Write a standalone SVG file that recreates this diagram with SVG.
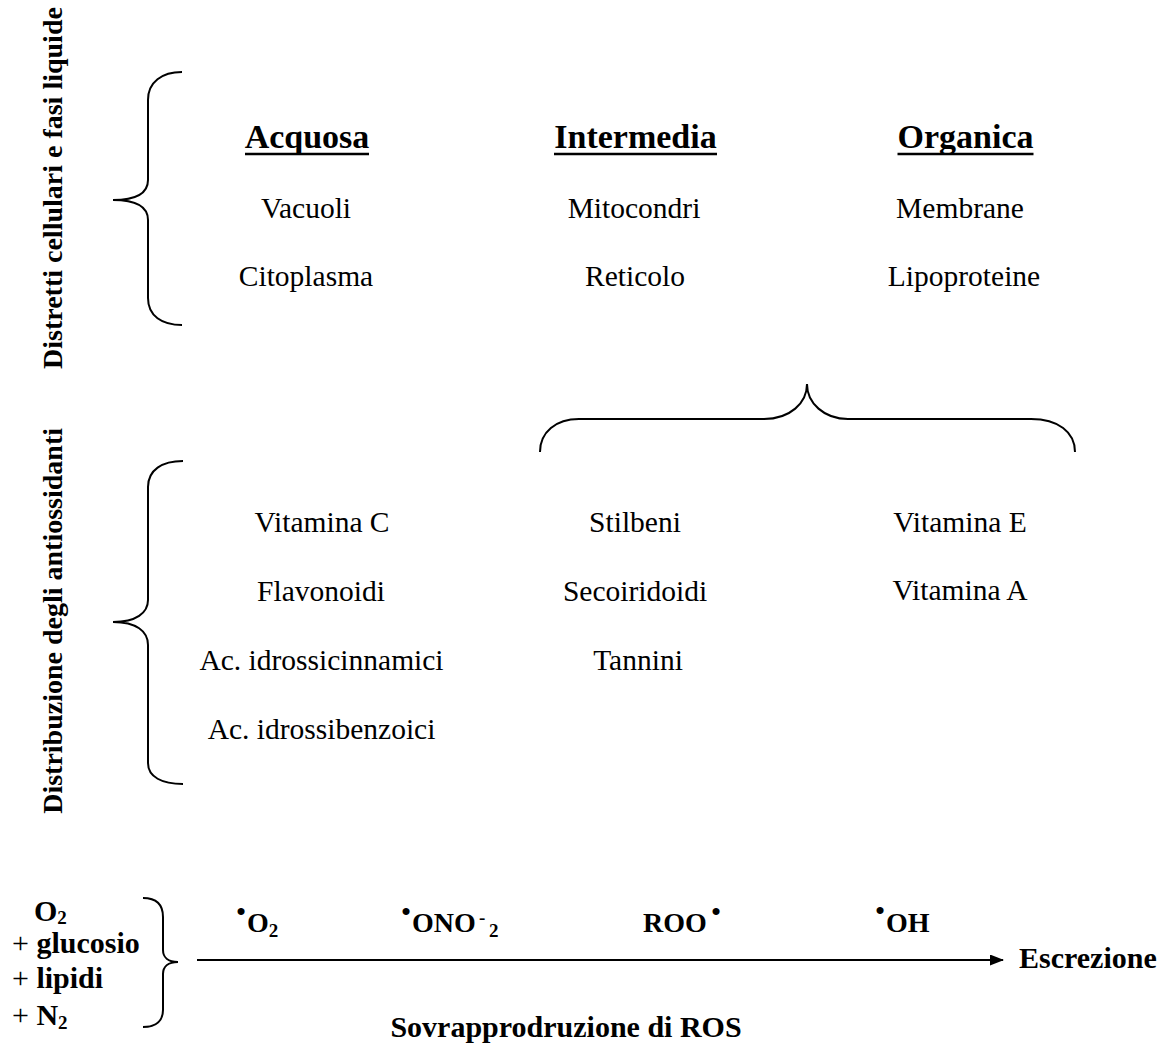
<svg xmlns="http://www.w3.org/2000/svg" width="1168" height="1050" viewBox="0 0 1168 1050">
<style>
  text { font-family: "Liberation Serif", "Times New Roman", serif; fill: #000; }
  .head { font-size: 34px; font-weight: bold; text-anchor: middle; }
  .item { font-size: 29.5px; text-anchor: middle; }
  .vert { font-size: 28px; font-weight: bold; }
  .bold { font-size: 30px; font-weight: bold; }
  .rad { font-size: 28px; font-weight: bold; }
  .sub { font-size: 19px; }
  .dot { font-size: 26px; }
  .plus { font-weight: normal; }
  .brace { fill: none; stroke: #000; stroke-width: 2; }
  .uline { stroke: #000; stroke-width: 2.6; }
  .conn { stroke: #000; stroke-width: 2; fill: none; }
</style>
<defs>
  <marker id="arrow" viewBox="0 0 14 11" refX="13" refY="5.5" markerWidth="14" markerHeight="11" markerUnits="userSpaceOnUse" orient="auto">
    <path d="M0,0 L14,5.5 L0,11 z" fill="#000"/>
  </marker>
</defs>
<rect width="1168" height="1050" fill="#fff"/>

<g id="label-distretti">
  <text class="vert" transform="translate(62,369) rotate(-90)" x="0" y="0">Distretti cellulari e fasi liquide</text>
</g>
<g id="label-distribuzione">
  <text class="vert" transform="translate(62,428) rotate(-90)" x="0" y="0" text-anchor="end">Distribuzione degli antiossidanti</text>
</g>

<g id="brace-top">
  <path class="brace" d="M182,72 C162,72 148,82 148,100 L148,180 C148,193 136,200 113,200 C136,200 148,207 148,220 L148,298 C148,316 162,325 182,325"/>
</g>
<g id="brace-middle">
  <path class="brace" d="M183,461 C162,461 148,470 148,487 L148,600 C148,613 136,622 113,622 C136,622 148,631 148,645 L148,763 C148,777 162,784 183,784"/>
</g>
<g id="brace-horizontal">
  <path class="brace" d="M540,452 C540,432 556,419 579,419 L764,419 C790,419 807,403 807,384 C807,403 824,419 848,419 L1031,419 C1058,419 1075,432 1075,452"/>
</g>
<g id="brace-bottom">
  <path class="brace" d="M143,898 C157,898 163,905 163,917 L163,950 C163,957 168,962 178,962 C168,962 163,967 163,974 L163,1010 C163,1020 157,1027 143,1027"/>
</g>

<g id="col-acquosa">
  <text class="head" x="307" y="148">Acquosa</text>
  <line class="uline" x1="245" y1="154" x2="369" y2="154"/>
  <text class="item" x="306" y="218">Vacuoli</text>
  <text class="item" x="306" y="286">Citoplasma</text>
</g>
<g id="col-intermedia">
  <text class="head" x="635.5" y="148">Intermedia</text>
  <line class="uline" x1="554" y1="154" x2="717" y2="154"/>
  <text class="item" x="634" y="218">Mitocondri</text>
  <text class="item" x="635" y="286">Reticolo</text>
</g>
<g id="col-organica">
  <text class="head" x="965.5" y="148">Organica</text>
  <line class="uline" x1="897.5" y1="154" x2="1033.5" y2="154"/>
  <text class="item" x="960" y="218">Membrane</text>
  <text class="item" x="964" y="286">Lipoproteine</text>
</g>

<g id="antiox-acquosa">
  <text class="item" x="322" y="532">Vitamina C</text>
  <text class="item" x="321" y="601">Flavonoidi</text>
  <text class="item" x="321.5" y="670">Ac. idrossicinnamici</text>
  <text class="item" x="321.5" y="739">Ac. idrossibenzoici</text>
</g>
<g id="antiox-intermedia">
  <text class="item" x="635" y="532">Stilbeni</text>
  <text class="item" x="635" y="601">Secoiridoidi</text>
  <text class="item" x="638" y="670">Tannini</text>
</g>
<g id="antiox-organica">
  <text class="item" x="960" y="532">Vitamina E</text>
  <text class="item" x="960" y="600">Vitamina A</text>
</g>

<g id="inputs">
  <text class="bold" x="34" y="921">O<tspan class="sub" dy="3">2</tspan></text>
  <text class="bold" x="12" y="953"><tspan class="plus">+</tspan> glucosio</text>
  <text class="bold" x="12" y="988"><tspan class="plus">+</tspan> lipidi</text>
  <text class="bold" x="12" y="1025"><tspan class="plus">+</tspan> N<tspan class="sub" dy="4">2</tspan></text>
</g>

<g id="radicals">
  <text class="rad"><tspan class="dot" x="236.5" y="920">•</tspan><tspan x="247" y="932">O</tspan><tspan class="sub" y="937">2</tspan></text>
  <text class="rad"><tspan class="dot" x="401.5" y="920">•</tspan><tspan x="412" y="932">ONO</tspan><tspan class="sub" x="479" y="924">-</tspan><tspan class="sub" x="489" y="937">2</tspan></text>
  <text class="rad"><tspan x="643" y="932">ROO</tspan><tspan class="dot" x="711.5" y="920">•</tspan></text>
  <text class="rad"><tspan class="dot" x="875.5" y="919">•</tspan><tspan x="886" y="932">OH</tspan></text>
</g>

<g id="connectors">
  <line class="conn" x1="197" y1="960" x2="1003" y2="960" marker-end="url(#arrow)"/>
</g>

<g id="outputs">
  <text class="bold" x="1019" y="968">Escrezione</text>
  <text class="bold" x="566" y="1037" text-anchor="middle">Sovrapprodruzione di ROS</text>
</g>
</svg>
